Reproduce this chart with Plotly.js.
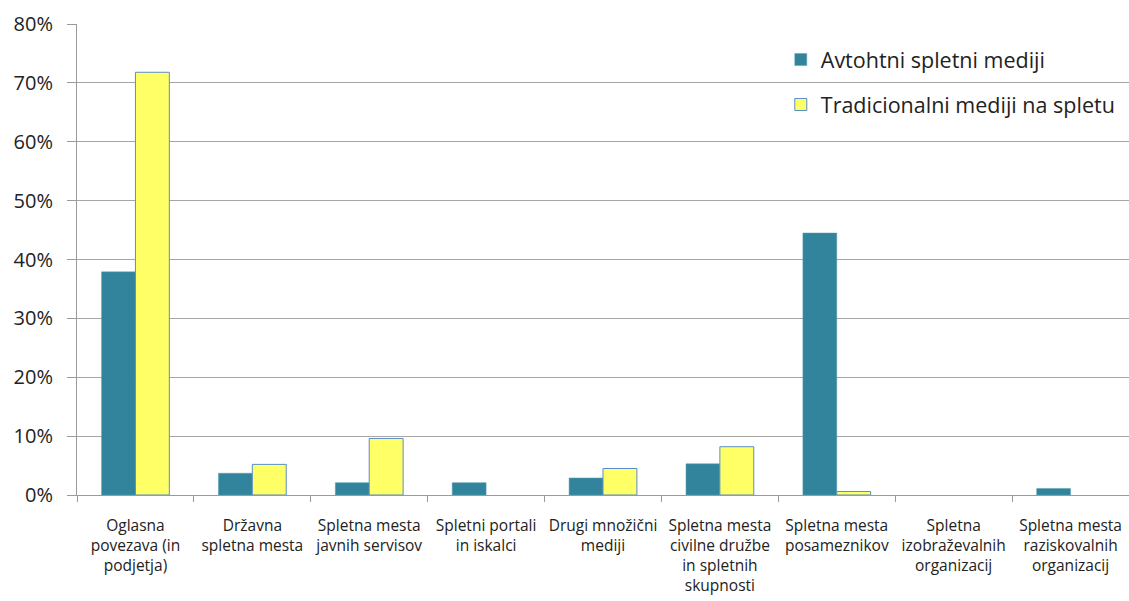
<!DOCTYPE html>
<html>
<head>
<meta charset="utf-8">
<script src="https://cdn.plot.ly/plotly-3.0.1.min.js"></script>
<style>html,body{margin:0;padding:0;background:#fff;}#chart{width:1129px;height:601px;}</style>
</head>
<body>
<div id="chart"></div>
<script>
const categories = [
  "Oglasna<br>povezava (in<br>podjetja)",
  "Državna<br>spletna mesta",
  "Spletna mesta<br>javnih servisov",
  "Spletni portali<br>in iskalci",
  "Drugi množični<br>mediji",
  "Spletna mesta<br>civilne družbe<br>in spletnih<br>skupnosti",
  "Spletna mesta<br>posameznikov",
  "Spletna<br>izobraževalnih<br>organizacij",
  "Spletna mesta<br>raziskovalnih<br>organizacij"
];
const seriesNames = ["Avtohtni spletni mediji", "Tradicionalni mediji na spletu"];
const avtohtni = [0.379, 0.037, 0.021, 0.021, 0.029, 0.053, 0.445, 0.0, 0.011];
const tradicionalni = [0.718, 0.052, 0.096, 0.0, 0.045, 0.082, 0.006, 0.0, 0.0];

const hideZero = arr => arr.map(v => v === 0 ? null : v);
const font = "'Open Sans', 'Noto Sans', sans-serif";
const traces = [
  {type:'bar', name:seriesNames[0], x:categories, y:hideZero(avtohtni), legendgroup:'a',
   marker:{color:'#31849B', line:{color:'#5aa0b3', width:0.5}}, hoverinfo:'y'},
  {type:'bar', name:seriesNames[1], x:categories, y:hideZero(tradicionalni), legendgroup:'b',
   marker:{color:'#FFFF66', line:{color:'#5B8DC9', width:1}}, hoverinfo:'y'}
];
const layout = {
  width:1129, height:601,
  margin:{l:77, r:0, t:24, b:106},
  paper_bgcolor:'#fff', plot_bgcolor:'#fff',
  barmode:'group', bargap:0.42, bargroupgap:0,
  showlegend:true,
  legend:{x:0.669, y:0.968, xanchor:'left', yanchor:'top', bgcolor:'rgba(0,0,0,0)',
          font:{family:font, size:21.5, color:'#222'}, tracegroupgap:14},
  xaxis:{type:'category', tickson:'boundaries', ticks:'outside', ticklen:6, tickcolor:'#9a9a9a',
         showline:true, linecolor:'#9a9a9a', linewidth:1, showgrid:false, ticklabelstandoff:16,
         tickfont:{family:font, size:15.5, color:'#222'}, tickangle:0, automargin:false},
  yaxis:{range:[0,0.8], dtick:0.1, tickformat:'.0%', ticks:'outside', ticklen:9, tickcolor:'#9a9a9a',
         showline:true, linecolor:'#9a9a9a', linewidth:1, showgrid:true, gridcolor:'#a6a6a6', gridwidth:1,
         zeroline:false, ticklabelstandoff:10, tickfont:{family:font, size:20, color:'#222'}, automargin:false}
};
Plotly.newPlot('chart', traces, layout, {displayModeBar:false, staticPlot:true});
</script>
</body>
</html>
